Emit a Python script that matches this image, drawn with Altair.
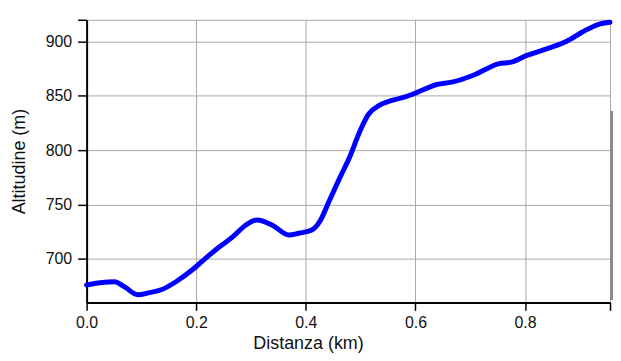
import altair as alt
import pandas as pd

dist_km = [0.0, 0.025, 0.051, 0.07, 0.093, 0.115, 0.136, 0.163, 0.193, 0.218, 0.242,
           0.266, 0.29, 0.311, 0.339, 0.369, 0.387, 0.411, 0.427, 0.442, 0.46, 0.481,
           0.499, 0.515, 0.533, 0.557, 0.581, 0.6, 0.639, 0.666, 0.709, 0.751, 0.775,
           0.802, 0.83, 0.875, 0.909, 0.933, 0.955]
alt_m = [676, 678, 679, 674, 667, 669, 671.6, 679, 690, 701, 711,
         720, 731, 735.8, 731, 722, 723.6, 726.6, 735.8, 752.6, 772.5, 795,
         818, 833.6, 841, 845.9, 849, 852.5, 860.5, 862.6, 869.7, 879.5, 881,
         887, 891.7, 900, 910, 915.6, 917.7]

x_ticks = [0.0, 0.2, 0.4, 0.6, 0.8, 0.955]
y_ticks = [700, 750, 800, 850, 900, 920]

df = pd.DataFrame({"d": dist_km, "a": alt_m})

W, H = 526, 284

line = alt.Chart(df).mark_line(
    color="#0000ff", strokeWidth=5, interpolate="monotone", strokeCap="round", strokeJoin="round"
).encode(
    x=alt.X("d:Q", scale=alt.Scale(domain=[0, 0.955], nice=False, zero=False),
            axis=alt.Axis(title="Distanza (km)", values=x_ticks, format=".1f",
                          labelExpr="datum.value > 0.9 ? '' : format(datum.value, '.1f')",
                          labelFlush=False,
                          titleX=222.5, titleY=46, titleAnchor="start", titleAlign="center",
                          titleBaseline="alphabetic")),
    y=alt.Y("a:Q", scale=alt.Scale(domain=[660, 920], nice=False, zero=False),
            axis=alt.Axis(title="Altitudine (m)", values=y_ticks, labelFlush=False,
                          labelExpr="datum.value > 910 ? '' : datum.value",
                          titleX=-62, titleBaseline="alphabetic", titleAlign="center")),
)

bar = alt.Chart(df).mark_rule(color="#8c8c8c", strokeWidth=2, clip=False).encode(
    x=alt.value(527.5), y=alt.value(92), y2=alt.value(281)
)

chart = alt.layer(line, bar).properties(
    width=W, height=H,
    autosize=alt.AutoSizeParams(type="none"),
    padding={"left": 79, "top": 11, "right": 3, "bottom": 50},
).configure_view(stroke=None).configure_axis(
    domainColor="black", domainWidth=2, tickColor="black", tickWidth=1.5,
    tickSize=8, labelFont="Liberation Sans", labelFontSize=16, labelColor="#111",
    titleFont="Liberation Sans", titleFontSize=18, titleFontWeight="normal", titleColor="#111",
    gridColor="#a8a8a8", gridWidth=1, gridOpacity=1, labelPadding=5,
).configure_axisY(tickSize=9, labelPadding=6).configure_axisX(labelPadding=4)

chart.save("out.html", embed_options={"renderer": "svg", "actions": False})
